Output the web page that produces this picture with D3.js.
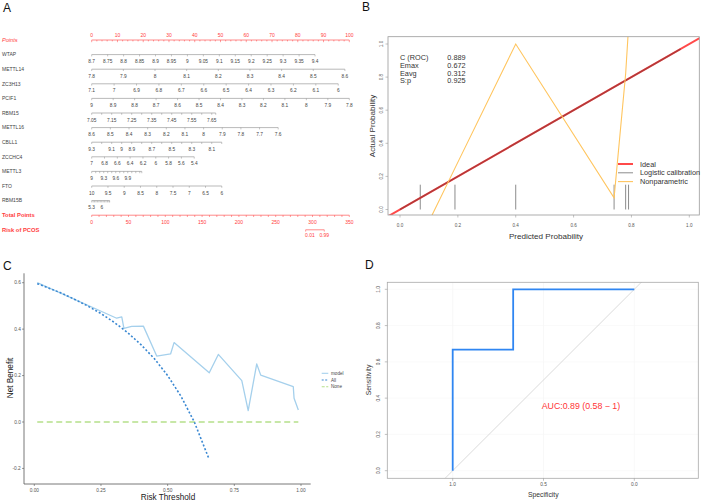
<!DOCTYPE html>
<html><head><meta charset="utf-8">
<script src="https://cdn.jsdelivr.net/npm/d3@7"></script>
<style>body{margin:0;background:#fff} svg{display:block;font-family:"Liberation Sans",Arial,sans-serif}</style>
</head><body><svg id="c" width="702" height="501"></svg>
<script>
// ================= Panel A: nomogram =================
const pointsLabels = [0,10,20,30,40,50,60,70,80,90,100];
const pointsMinor = [0,2,4,6,8,10,12,14,16,18,20,22,24,26,28,30,32,34,36,38,40,42,44,46,48,50,52,54,56,58,60,62,64,66,68,70,72,74,76,78,80,82,84,86,88,90,92,94,96,98,100];
const nomoVars = ["WTAP","METTL14","ZC3H13","PCIF1","RBM15","METTL16","CBLL1","ZCCHC4","METTL3","FTO","RBM15B"];
const nomoLabels = [
 [8.7,8.75,8.8,8.85,8.9,8.95,9,9.05,9.1,9.15,9.2,9.25,9.3,9.35,9.4],
 [7.8,7.9,8,8.1,8.2,8.3,8.4,8.5,8.6],
 [7.1,7,6.9,6.8,6.7,6.6,6.5,6.4,6.3,6.2,6.1,6],
 [9,8.9,8.8,8.7,8.6,8.5,8.4,8.3,8.2,8.1,8,7.9,7.8],
 [7.05,7.15,7.25,7.35,7.45,7.55,7.65],
 [8.6,8.5,8.4,8.3,8.2,8.1,8,7.9,7.8,7.7,7.6],
 [9.3,9.1,9,8.9,8.7,8.5,8.3,8.1],
 [7,6.8,6.6,6.4,6.2,6,5.8,5.6,5.4],
 [9,9.3,9.6,9.9],
 [10,9.5,9,8.5,8,7.5,7,6.5,6],
 [5.3,6]
];
const nomoTicks = [
 [8.7,8.75,8.8,8.85,8.9,8.95,9,9.05,9.1,9.15,9.2,9.25,9.3,9.35,9.4],
 [7.8,7.9,8,8.1,8.2,8.3,8.4,8.5,8.6],
 [7.1,7,6.9,6.8,6.7,6.6,6.5,6.4,6.3,6.2,6.1,6],
 [9,8.9,8.8,8.7,8.6,8.5,8.4,8.3,8.2,8.1,8,7.9,7.8],
 [7.05,7.1,7.15,7.2,7.25,7.3,7.35,7.4,7.45,7.5,7.55,7.6,7.65,7.67],
 [8.6,8.5,8.4,8.3,8.2,8.1,8,7.9,7.8,7.7,7.6],
 [9.3,9.2,9.1,9,8.9,8.8,8.7,8.6,8.5,8.4,8.3,8.2,8.1,8.0],
 [7,6.8,6.6,6.4,6.2,6,5.8,5.6,5.4],
 [9,9.1,9.2,9.3,9.4,9.5,9.6,9.7,9.8,9.9,10,10.1,10.2,10.25],
 [10,9.5,9,8.5,8,7.5,7,6.5,6],
 [5.3,5.4,5.5,5.6,5.7,5.8,5.9,6,6.1,6.2,6.3,6.4,6.5,6.55]
];
// points reached by the last label of each variable
const nomoEndPoints = [86.7,98.3,95.7,100,46.6,72.4,46.6,39.8,14.0,50.5,3.9];
const totalLabels = [0,50,100,150,200,250,300,350];
const totalMinor = [0,10,20,30,40,50,60,70,80,90,100,110,120,130,140,150,160,170,180,190,200,210,220,230,240,250,260,270,280,290,300,310,320,330,340,350];
const riskLabels = ["0.01","0.99"];
const riskTotalPoints = [290.7,316.0];

// ================= Panel B: calibration =================
const calStats = ["C (ROC)","Emax","Eavg","S:p"];
const calStatValues = ["0.889","0.672","0.312","0.925"];
const idealX = [-0.06,1.06];
const idealY = [-0.06,1.06];
const logisticX = [0.0,0.97];
const logisticY = [0.0,0.97];
const nonparX = [0.07,0.19,0.40,0.74,0.78,0.79];
const nonparY = [-0.18,0.25,1.0,0.07,0.82,1.1];
const rugX = [0.07,0.19,0.40,0.74,0.78,0.79];
const calTicks = [0,0.2,0.4,0.6,0.8,1.0];
const calLegend = ["Ideal","Logistic calibration","Nonparametric"];

// ================= Panel C: decision curve =================
const modelT  = [0.011,0.309,0.328,0.336,0.365,0.409,0.459,0.511,0.524,0.656,0.690,0.778,0.802,0.834,0.849,0.971,0.974,0.990];
const modelNB = [0.600,0.447,0.453,0.403,0.412,0.413,0.284,0.293,0.342,0.212,0.291,0.178,0.049,0.250,0.202,0.152,0.102,0.052];
const allT  = [0.011,0.05,0.10,0.15,0.20,0.25,0.30,0.35,0.40,0.45,0.50,0.55,0.60,0.655];
const allNB = [0.596,0.579,0.556,0.529,0.500,0.467,0.429,0.385,0.333,0.273,0.200,0.111,0.000,-0.159];
const noneT  = [0.011,0.99];
const noneNB = [0,0];
const dcaXTicks = [0,0.25,0.5,0.75,1.0];
const dcaXLabels = ["0.00","0.25","0.50","0.75","1.00"];
const dcaYTicks = [-0.2,0,0.2,0.4,0.6];
const dcaYLabels = ["-0.2","0.0","0.2","0.4","0.6"];
const dcaLegend = ["model","All","None"];

// ================= Panel D: ROC =================
const rocSpec = [1,1,0.667,0.667,0];
const rocSens = [0,0.667,0.667,1,1];
const rocXTicks = [1.0,0.5,0.0];
const rocYTicks = [0,0.2,0.4,0.6,0.8,1.0];
const aucText = "AUC:0.89 (0.58 \u2212 1)";

// ---------------------------------------------------
const svg = d3.select("#c");
svg.append("rect").attr("width",702).attr("height",501).attr("fill","#fff");
const letters = [["A",3,12],["B",362,11],["C",3,270],["D",365,269]];
letters.forEach(([t,x,y]) => svg.append("text").attr("x",x).attr("y",y).text(t).style("font-size","12px").attr("fill","#111"));

// ---------- Panel A ----------
(function(){
  const g = svg.append("g");
  const red = "#ff3d3d", grey = "#8a8a8a", txt = "#444";
  const ptsX = d3.scaleLinear().domain([0,100]).range([91.7,349.3]);
  const rowY = i => 40 + 14.6*i;
  // Points
  g.append("text").attr("x",2).attr("y",rowY(0)+2).text("Points").attr("fill",red)
    .style("font-size","5.6px").style("font-style","italic");
  g.append("line").attr("x1",ptsX(0)).attr("x2",ptsX(100)).attr("y1",rowY(0)).attr("y2",rowY(0)).attr("stroke",red).attr("stroke-width",0.6);
  g.selectAll(null).data(pointsMinor).join("line")
    .attr("x1",d=>ptsX(d)).attr("x2",d=>ptsX(d)).attr("y1",rowY(0)).attr("y2",d=>rowY(0)+(d%10===0?2.2:1.4))
    .attr("stroke",red).attr("stroke-width",0.5);
  g.selectAll(null).data(pointsLabels).join("text")
    .attr("x",d=>ptsX(d)).attr("y",rowY(0)-3.3).attr("text-anchor","middle").text(d=>d)
    .attr("fill",red).style("font-size","5px");
  // variables
  nomoVars.forEach((name,i) => {
    const y = rowY(i+1);
    const labs = nomoLabels[i], ticks = nomoTicks[i];
    const sc = d3.scaleLinear().domain([labs[0], labs[labs.length-1]]).range([ptsX(0), ptsX(nomoEndPoints[i])]);
    g.append("text").attr("x",2).attr("y",y+1.8).text(name).attr("fill",txt).style("font-size","5px");
    const ext = d3.extent(ticks.map(sc));
    g.append("line").attr("x1",ext[0]).attr("x2",ext[1]).attr("y1",y).attr("y2",y).attr("stroke",grey).attr("stroke-width",0.6);
    g.selectAll(null).data(ticks).join("line")
      .attr("x1",d=>sc(d)).attr("x2",d=>sc(d)).attr("y1",y).attr("y2",y+1.8)
      .attr("stroke",grey).attr("stroke-width",0.5);
    g.selectAll(null).data(labs).join("text")
      .attr("x",d=>sc(d)).attr("y",y+8.6).attr("text-anchor","middle").text(d=>d)
      .attr("fill",txt).style("font-size","4.8px");
  });
  // Total points
  const totX = d3.scaleLinear().domain([0,350]).range([91.7,349.3]);
  const yT = rowY(12);
  g.append("text").attr("x",2).attr("y",yT+2).text("Total Points").attr("fill",red)
    .style("font-size","5.8px").style("font-weight","bold");
  g.append("line").attr("x1",totX(0)).attr("x2",totX(350)).attr("y1",yT).attr("y2",yT).attr("stroke",red).attr("stroke-width",0.6);
  g.selectAll(null).data(totalMinor).join("line")
    .attr("x1",d=>totX(d)).attr("x2",d=>totX(d)).attr("y1",yT).attr("y2",yT+1.8)
    .attr("stroke",red).attr("stroke-width",0.5);
  g.selectAll(null).data(totalLabels).join("text")
    .attr("x",d=>totX(d)).attr("y",yT+8.3).attr("text-anchor","middle").text(d=>d)
    .attr("fill",red).style("font-size","5px");
  // Risk
  const yR = rowY(13);
  g.append("text").attr("x",2).attr("y",yR+2).text("Risk of PCOS").attr("fill",red)
    .style("font-size","5.8px").style("font-weight","bold");
  g.append("line").attr("x1",totX(riskTotalPoints[0])).attr("x2",totX(riskTotalPoints[1])).attr("y1",yR).attr("y2",yR).attr("stroke",red).attr("stroke-width",0.6);
  g.selectAll(null).data(riskTotalPoints).join("line")
    .attr("x1",d=>totX(d)).attr("x2",d=>totX(d)).attr("y1",yR).attr("y2",yR+1.8)
    .attr("stroke",red).attr("stroke-width",0.5);
  g.selectAll(null).data(riskLabels).join("text")
    .attr("x",(d,i)=>totX(riskTotalPoints[i])+(i===0?4.3:0)).attr("y",yR+7.2).attr("text-anchor","middle").text(d=>d)
    .attr("fill",red).style("font-size","5px");
})();

// ---------- Panel B ----------
(function(){
  const g = svg.append("g");
  const box = {l:388,r:699.3,t:36.7,b:215};
  const x = d3.scaleLinear().domain([0,1]).range([400,689.3]);
  const y = d3.scaleLinear().domain([0,1]).range([209.5,44]);
  svg.append("clipPath").attr("id","clipB").append("rect").attr("x",box.l).attr("y",box.t).attr("width",box.r-box.l).attr("height",box.b-box.t);
  const pg = g.append("g").attr("clip-path","url(#clipB)");
  const line = d3.line().x(d=>x(d[0])).y(d=>y(d[1]));
  // rug
  pg.selectAll(null).data(rugX).join("line")
    .attr("x1",d=>x(d)).attr("x2",d=>x(d)).attr("y1",y(0)).attr("y2",y(0.15))
    .attr("stroke","#8c8c8c").attr("stroke-width",1);
  // ideal
  pg.append("path").attr("d",line(idealX.map((v,i)=>[v,idealY[i]]))).attr("stroke","#ff4a4a").attr("stroke-width",2).attr("fill","none");
  // logistic calibration
  pg.append("path").attr("d",line(logisticX.map((v,i)=>[v,logisticY[i]]))).attr("stroke","#7a2a2a").attr("stroke-opacity",0.55).attr("stroke-width",1.6).attr("fill","none");
  // nonparametric
  pg.append("path").attr("d",line(nonparX.map((v,i)=>[v,nonparY[i]]))).attr("stroke","#ffc55e").attr("stroke-width",1.1).attr("fill","none");
  // box
  g.append("rect").attr("x",box.l).attr("y",box.t).attr("width",box.r-box.l).attr("height",box.b-box.t)
    .attr("fill","none").attr("stroke","#9a9a9a").attr("stroke-width",0.8);
  // axes
  g.selectAll(null).data(calTicks).join("line").attr("x1",d=>x(d)).attr("x2",d=>x(d)).attr("y1",box.b).attr("y2",box.b+2.5).attr("stroke","#9a9a9a").attr("stroke-width",0.6);
  g.selectAll(null).data(calTicks).join("text").attr("x",d=>x(d)).attr("y",box.b+11.5).attr("text-anchor","middle")
    .text(d=>d.toFixed(1)).attr("fill","#555").style("font-size","4.6px");
  g.selectAll(null).data(calTicks).join("line").attr("y1",d=>y(d)).attr("y2",d=>y(d)).attr("x1",box.l).attr("x2",box.l-2.5).attr("stroke","#9a9a9a").attr("stroke-width",0.6);
  g.selectAll(null).data(calTicks).join("text").attr("transform",d=>`translate(382.5,${y(d)}) rotate(-90)`).attr("text-anchor","middle")
    .text(d=>d.toFixed(1)).attr("fill","#555").style("font-size","4.6px");
  g.append("text").attr("x",546).attr("y",239).attr("text-anchor","middle").text("Predicted Probability").attr("fill","#333").style("font-size","8.1px");
  g.append("text").attr("transform","translate(375,126) rotate(-90)").attr("text-anchor","middle").text("Actual Probability").attr("fill","#333").style("font-size","8.1px");
  // stats
  calStats.forEach((s,i)=>{
    g.append("text").attr("x",400).attr("y",60.3+7.7*i).text(s).attr("fill","#333").style("font-size","7.3px");
    g.append("text").attr("x",447.3).attr("y",60.3+7.7*i).text(calStatValues[i]).attr("fill","#333").style("font-size","7.3px");
  });
  // legend
  const legCol = ["#ff4a4a","#8c8c8c","#ffc55e"], legW=[2,1,1.1];
  calLegend.forEach((s,i)=>{
    const yy = 164 + 8.8*i;
    g.append("line").attr("x1",618).attr("x2",633).attr("y1",yy).attr("y2",yy).attr("stroke",legCol[i]).attr("stroke-width",legW[i]);
    g.append("text").attr("x",640).attr("y",yy+2.6).text(s).attr("fill","#333").style("font-size","7.3px");
  });
})();

// ---------- Panel C ----------
(function(){
  const g = svg.append("g");
  const x = d3.scaleLinear().domain([0,1]).range([34.3,301]);
  const y = d3.scaleLinear().domain([0,0.6]).range([422,282.7]);
  const line = d3.line().x(d=>x(d[0])).y(d=>y(d[1]));
  // axis lines
  g.append("line").attr("x1",24).attr("x2",24).attr("y1",273.3).attr("y2",484).attr("stroke","#555").attr("stroke-width",0.8);
  g.append("line").attr("x1",24).attr("x2",310.7).attr("y1",484).attr("y2",484).attr("stroke","#555").attr("stroke-width",0.8);
  g.selectAll(null).data(dcaYTicks).join("line").attr("x1",24).attr("x2",22).attr("y1",d=>y(d)).attr("y2",d=>y(d)).attr("stroke","#555").attr("stroke-width",0.6);
  g.selectAll(null).data(dcaYTicks).join("text").attr("x",20.8).attr("y",d=>y(d)+1.7).attr("text-anchor","end")
    .text((d,i)=>dcaYLabels[i]).attr("fill","#555").style("font-size","4.8px");
  g.selectAll(null).data(dcaXTicks).join("line").attr("x1",d=>x(d)).attr("x2",d=>x(d)).attr("y1",484).attr("y2",486).attr("stroke","#555").attr("stroke-width",0.6);
  g.selectAll(null).data(dcaXTicks).join("text").attr("x",d=>x(d)).attr("y",491.5).attr("text-anchor","middle")
    .text((d,i)=>dcaXLabels[i]).attr("fill","#555").style("font-size","4.8px");
  g.append("text").attr("x",168).attr("y",500).attr("text-anchor","middle").text("Risk Threshold").attr("fill","#222").style("font-size","8.2px");
  g.append("text").attr("transform","translate(12.5,378) rotate(-90)").attr("text-anchor","middle").text("Net Benefit").attr("fill","#222").style("font-size","8.2px");
  // lines
  g.append("path").attr("d",line(noneT.map((v,i)=>[v,noneNB[i]]))).attr("stroke","#b5e08a").attr("stroke-width",1.4).attr("stroke-dasharray","6,3.5").attr("fill","none");
  g.append("path").attr("d",line(modelT.map((v,i)=>[v,modelNB[i]]))).attr("stroke","#a5d0ec").attr("stroke-width",1.3).attr("fill","none").attr("stroke-linejoin","round");
  g.append("path").attr("d",line(allT.map((v,i)=>[v,allNB[i]]))).attr("stroke","#3a88d2").attr("stroke-width",1.6).attr("stroke-dasharray","2,2").attr("fill","none");
  // legend
  const legCol = ["#a5d0ec","#3a88d2","#b5e08a"], legDash = [null,"2,1.5","3,1.5"];
  dcaLegend.forEach((s,i)=>{
    const yy = 373.3 + 6.7*i;
    g.append("line").attr("x1",321.7).attr("x2",328.3).attr("y1",yy).attr("y2",yy).attr("stroke",legCol[i]).attr("stroke-width",1.1).attr("stroke-dasharray",legDash[i]);
    g.append("text").attr("x",331).attr("y",yy+1.6).text(s).attr("fill","#444").style("font-size","4.6px");
  });
})();

// ---------- Panel D ----------
(function(){
  const g = svg.append("g");
  const box = {l:387.3,r:698.3,t:282.3,b:478.3};
  const x = d3.scaleLinear().domain([1,0]).range([452.7,634.3]);
  const y = d3.scaleLinear().domain([0,1]).range([470.7,289.3]);
  svg.append("clipPath").attr("id","clipD").append("rect").attr("x",box.l).attr("y",box.t).attr("width",box.r-box.l).attr("height",box.b-box.t);
  const pg = g.append("g").attr("clip-path","url(#clipD)");
  // faint grid
  pg.selectAll(null).data(rocXTicks).join("line").attr("x1",d=>x(d)).attr("x2",d=>x(d)).attr("y1",box.t).attr("y2",box.b).attr("stroke","#f3f3f3").attr("stroke-width",0.6);
  pg.selectAll(null).data(rocYTicks).join("line").attr("y1",d=>y(d)).attr("y2",d=>y(d)).attr("x1",box.l).attr("x2",box.r).attr("stroke","#f6f6f6").attr("stroke-width",0.6);
  // diagonal
  pg.append("line").attr("x1",x(1.2)).attr("y1",y(-0.2)).attr("x2",x(-0.2)).attr("y2",y(1.2)).attr("stroke","#d6d6d6").attr("stroke-width",0.9);
  // ROC
  const line = d3.line().x(d=>x(d[0])).y(d=>y(d[1]));
  pg.append("path").attr("d",line(rocSpec.map((v,i)=>[v,rocSens[i]]))).attr("stroke","#2f86f2").attr("stroke-width",1.8).attr("fill","none");
  g.append("rect").attr("x",box.l).attr("y",box.t).attr("width",box.r-box.l).attr("height",box.b-box.t)
    .attr("fill","none").attr("stroke","#a8a8a8").attr("stroke-width",0.8);
  g.selectAll(null).data(rocXTicks).join("line").attr("x1",d=>x(d)).attr("x2",d=>x(d)).attr("y1",box.b).attr("y2",box.b+2.5).attr("stroke","#999").attr("stroke-width",0.6);
  g.selectAll(null).data(rocXTicks).join("text").attr("x",d=>x(d)).attr("y",box.b+7.6).attr("text-anchor","middle")
    .text(d=>d.toFixed(1)).attr("fill","#555").style("font-size","4.8px");
  g.selectAll(null).data(rocYTicks).join("line").attr("y1",d=>y(d)).attr("y2",d=>y(d)).attr("x1",box.l).attr("x2",box.l-2.5).attr("stroke","#999").attr("stroke-width",0.6);
  g.selectAll(null).data(rocYTicks).join("text").attr("transform",d=>`translate(380,${y(d)}) rotate(-90)`).attr("text-anchor","middle")
    .text(d=>d.toFixed(1)).attr("fill","#555").style("font-size","4.8px");
  g.append("text").attr("x",543.3).attr("y",497).attr("text-anchor","middle").text("Specificity").attr("fill","#333").style("font-size","6.8px");
  g.append("text").attr("transform","translate(370.5,380) rotate(-90)").attr("text-anchor","middle").text("Sensitivity").attr("fill","#333").style("font-size","6.8px");
  g.append("text").attr("x",541.7).attr("y",409).text(aucText).attr("fill","#ff3434").style("font-size","8.8px");
})();
</script>
</body></html>
